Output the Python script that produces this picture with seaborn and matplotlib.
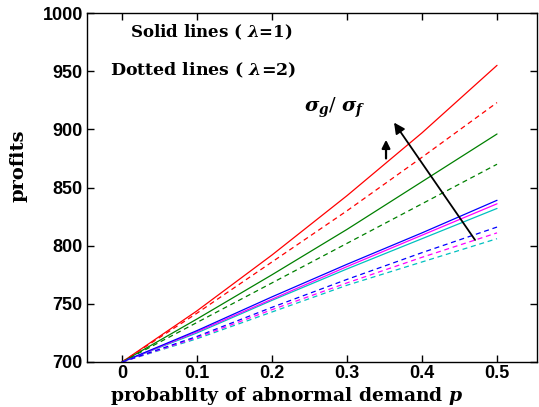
import numpy as np
import pandas as pd
import matplotlib
matplotlib.use('Agg')
import matplotlib.pyplot as plt
import seaborn as sns

# probability of abnormal demand
p = [0.0, 0.1, 0.2, 0.3, 0.4, 0.5]

# profits, solid lines (lambda = 1)
red_solid = [700, 744, 792, 843, 897, 955]
green_solid = [700, 737, 775, 814, 855, 896]
blue_solid = [700, 727, 756, 784, 811, 839]
magenta_solid = [700, 726, 754, 782, 809, 836]
cyan_solid = [700, 725, 753, 780, 806, 832]

# profits, dotted lines (lambda = 2)
red_dash = [700, 742, 786, 830, 876, 923]
green_dash = [700, 734, 768, 802, 836, 870]
blue_dash = [700, 722, 747, 771, 794, 816]
magenta_dash = [700, 721, 745, 768, 790, 811]
cyan_dash = [700, 720, 743, 766, 786, 806]

colors = {'r': '#ff0000', 'g': '#008000', 'b': '#0000ff', 'm': '#ff00ff', 'c': '#00c0c0'}

rows = []
for name, vals, ls in [('r', red_solid, '1'), ('g', green_solid, '1'), ('c', cyan_solid, '1'),
                       ('m', magenta_solid, '1'), ('b', blue_solid, '1'),
                       ('r', red_dash, '2'), ('g', green_dash, '2'), ('c', cyan_dash, '2'),
                       ('m', magenta_dash, '2'), ('b', blue_dash, '2')]:
    for x, y in zip(p, vals):
        rows.append({'p': x, 'profit': y, 'col': name, 'lam': ls, 'key': name + ls})
df = pd.DataFrame(rows)

sns.set_style('ticks')
plt.rcParams['font.family'] = ['DejaVu Serif']
plt.rcParams['text.color'] = 'black'
plt.rcParams['axes.edgecolor'] = 'black'
plt.rcParams['xtick.color'] = 'black'
plt.rcParams['ytick.color'] = 'black'
plt.rcParams['mathtext.fontset'] = 'custom'
plt.rcParams['mathtext.it'] = 'DejaVu Serif:italic:bold'
plt.rcParams['mathtext.rm'] = 'DejaVu Serif:bold'
plt.rcParams['mathtext.bf'] = 'DejaVu Serif:bold'

fig = plt.figure(figsize=(5.39, 4.07), dpi=100)
ax = fig.add_axes([87 / 539, 45 / 407, 450 / 539, 349 / 407])

for key, sub in df.groupby('key', sort=False):
    c = colors[sub['col'].iloc[0]]
    dashed = sub['lam'].iloc[0] == '2'
    sns.lineplot(data=sub, x='p', y='profit', ax=ax, color=c, lw=0.9,
                 linestyle=(0, (4, 3)) if dashed else '-', legend=False)

ax.set_xlim(-0.0467, 0.5533)
ax.set_ylim(700, 1000)
ax.set_xticks([0, 0.1, 0.2, 0.3, 0.4, 0.5])
ax.set_xticklabels(['0', '0.1', '0.2', '0.3', '0.4', '0.5'])
ax.set_yticks([700, 750, 800, 850, 900, 950, 1000])
ax.tick_params(direction='in', top=True, right=True, length=5, width=1, pad=3)
ax.tick_params(axis='x', pad=2)
for lab in ax.get_xticklabels() + ax.get_yticklabels():
    lab.set_fontfamily('Liberation Sans')
    lab.set_fontweight('bold')
    lab.set_fontsize(13)
    lab.set_color('black')
for s in ax.spines.values():
    s.set_linewidth(1.0)
    s.set_visible(True)
ax.set_xlabel('')
ax.set_ylabel('')

fig.text(287 / 539, 1 - 396 / 407, r'probablity of abnormal demand $p$', ha='center', va='center',
         fontsize=13.5, fontweight='bold')
fig.text(18 / 539, 1 - 166 / 407, 'profits', rotation=90, ha='center', va='center',
         fontsize=14, fontweight='bold')

ax.text(0.011, 983, r'Solid lines ( $\lambda$=1)', fontsize=12, fontweight='bold', va='center')
ax.text(-0.016, 951, r'Dotted lines ( $\lambda$=2)', fontsize=12.5, fontweight='bold', va='center')
ax.text(0.284, 918, r'$\sigma_g$/ $\sigma_f$', fontsize=14, va='center', ha='center')

ax.annotate('', xy=(0.3627, 905.8), xytext=(0.4707, 804.9),
            arrowprops=dict(arrowstyle='-|>', color='k', lw=1.3, mutation_scale=16, shrinkA=0, shrinkB=0))
ax.annotate('', xy=(0.352, 891), xytext=(0.352, 875),
            arrowprops=dict(arrowstyle='-|>', color='k', lw=1.6, mutation_scale=12, shrinkA=0, shrinkB=0))

fig.savefig('out.png', dpi=100)
